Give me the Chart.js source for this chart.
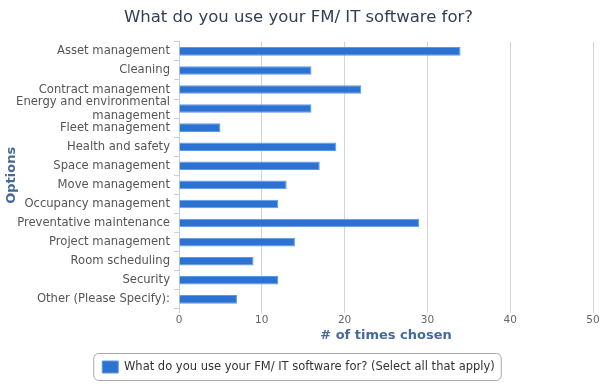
<!DOCTYPE html>
<html>
<head>
<meta charset="utf-8">
<script src="https://cdn.jsdelivr.net/npm/chart.js@4"></script>
<style>
  html, body { margin: 0; padding: 0; background: #fff; }
  #wrap { width: 610px; height: 391px; }
</style>
</head>
<body>
<div id="wrap"><canvas id="chart" width="610" height="391"></canvas></div>
<script>
const categories = [
    'Asset management',
    'Cleaning',
    'Contract management',
    ['Energy and environmental', 'management'],
    'Fleet management',
    'Health and safety',
    'Space management',
    'Move management',
    'Occupancy management',
    'Preventative maintenance',
    'Project management',
    'Room scheduling',
    'Security',
    'Other (Please Specify):'
]
const timesChosen = [34, 16, 22, 16, 5, 19, 17, 13, 12, 29, 14, 9, 12, 7]
const xTicks = [0, 10, 20, 30, 40, 50]
const seriesName = 'What do you use your FM/ IT software for? (Select all that apply)'

Chart.defaults.font.family = 'DejaVu Sans'

// 범례 둘레에 둥근 테두리 그리기
const legendBorder = {
    id: 'legendBorder',
    afterDraw(chart) {
        const boxes = chart.legend.legendHitBoxes
        if (!boxes || !boxes.length) return
        const b = boxes[0]
        const x = b.left - 9, y = b.top - 8, w = b.width + 15, h = b.height + 15
        const ctx = chart.ctx
        ctx.save()
        ctx.strokeStyle = '#a8a8a8'
        ctx.lineWidth = 1
        ctx.beginPath()
        ctx.roundRect(x + 0.5, y + 0.5, w, h, 5)
        ctx.stroke()
        ctx.restore()
    }
}

const context = document.getElementById('chart')
const chartData = {
    labels: categories,
    datasets: [{
        label: seriesName,
        data: timesChosen,
        backgroundColor: '#2c72d2',
        borderColor: '#5b9be6',
        borderWidth: 1,
        barPercentage: 0.9,
        categoryPercentage: 0.5
    }]
}
const config = {
    type: 'bar',
    data: chartData,
    options: {
        indexAxis: 'y',
        responsive: false,
        animation: false,
        layout: { padding: { left: 4, right: 17, top: 5, bottom: 8 } },
        scales: {
            x: {
                min: 0,
                max: 50,
                afterBuildTicks: scale => { scale.ticks = xTicks.map(v => ({ value: v })) },
                grid: { color: '#d4d4d4', lineWidth: 1, tickLength: 4,
                    drawOnChartArea: true },
                border: { display: false },
                ticks: { color: '#666', font: { size: 10.5, lineHeight: 1 }, padding: 2 },
                title: { display: true, text: '# of times chosen', color: '#46699a',
                    font: { size: 13, weight: 'bold' }, padding: { top: 0, bottom: 6 } }
            },
            y: {
                grid: { offset: true, drawOnChartArea: false, color: '#c4d0e0', tickLength: 5 },
                border: { display: true, color: '#c4d0e0' },
                ticks: { color: '#555', font: { size: 11.6 }, padding: 4, autoSkip: false },
                title: { display: true, text: 'Options', color: '#46699a',
                    font: { size: 13, weight: 'bold' }, padding: { top: 0, bottom: 6 } },
                afterFit: scale => { scale.width = 175 }
            }
        },
        plugins: {
            title: {
                display: true,
                text: 'What do you use your FM/ IT software for?',
                color: '#2f3f55',
                font: { size: 16.5, weight: 'normal' },
                padding: { top: 3, bottom: 14 }
            },
            legend: {
                position: 'bottom',
                labels: { color: '#333', font: { size: 11.5 }, boxWidth: 16, boxHeight: 12,
                    padding: 12 }
            },
            tooltip: { enabled: false }
        }
    },
    plugins: [legendBorder]
}
const myChart = new Chart(context, config)
</script>
</body>
</html>
